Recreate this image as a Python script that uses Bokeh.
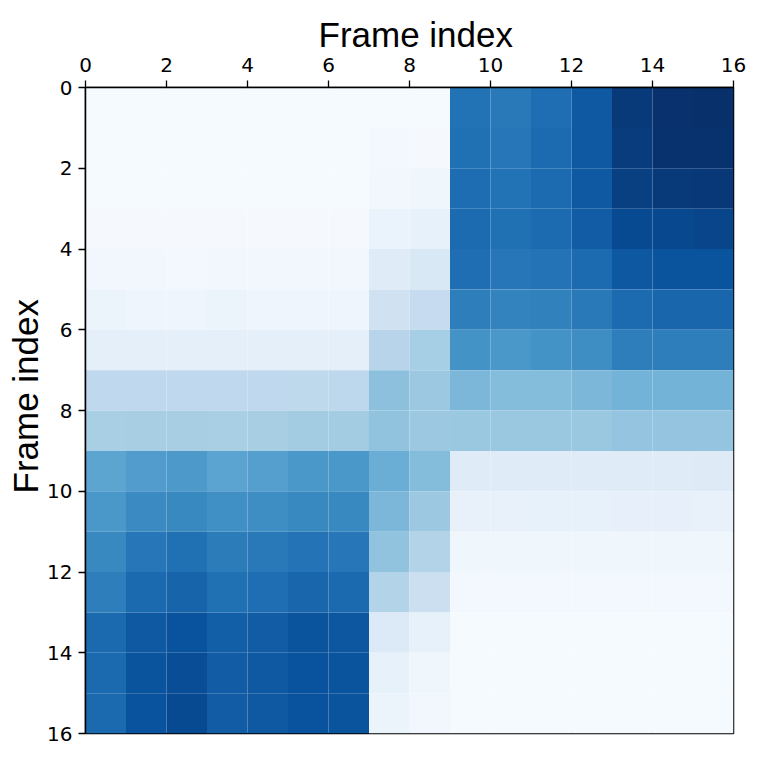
from bokeh.plotting import figure
from bokeh.models import ColumnDataSource, LinearColorMapper, FixedTicker, Range1d, Title
from bokeh.palettes import Blues256
from bokeh.embed import file_html
from bokeh.resources import INLINE

# Frame-to-frame distance matrix (row = y frame index, column = x frame index)
row_00 = [0.01, 0.01, 0.01, 0.01, 0.01, 0.01, 0.01, 0.01, 0.01, 0.745, 0.72, 0.76, 0.84, 0.96, 0.995, 1.00]
row_01 = [0.01, 0.01, 0.01, 0.01, 0.01, 0.01, 0.01, 0.02, 0.015, 0.75, 0.73, 0.77, 0.84, 0.95, 0.99, 0.99]
row_02 = [0.01, 0.01, 0.01, 0.01, 0.01, 0.01, 0.01, 0.03, 0.04, 0.765, 0.745, 0.77, 0.84, 0.94, 0.96, 0.965]
row_03 = [0.015, 0.015, 0.015, 0.015, 0.015, 0.015, 0.015, 0.07, 0.08, 0.77, 0.75, 0.77, 0.83, 0.90, 0.91, 0.92]
row_04 = [0.03, 0.03, 0.025, 0.03, 0.03, 0.03, 0.03, 0.12, 0.15, 0.76, 0.73, 0.74, 0.77, 0.845, 0.86, 0.86]
row_05 = [0.06, 0.05, 0.05, 0.055, 0.05, 0.05, 0.05, 0.20, 0.25, 0.70, 0.68, 0.69, 0.72, 0.77, 0.79, 0.79]
row_06 = [0.09, 0.09, 0.09, 0.09, 0.09, 0.09, 0.09, 0.30, 0.35, 0.62, 0.60, 0.62, 0.64, 0.70, 0.70, 0.70]
row_07 = [0.27, 0.27, 0.27, 0.27, 0.27, 0.275, 0.28, 0.42, 0.38, 0.46, 0.44, 0.44, 0.46, 0.48, 0.48, 0.48]
row_08 = [0.34, 0.345, 0.345, 0.34, 0.345, 0.36, 0.36, 0.41, 0.38, 0.385, 0.385, 0.385, 0.385, 0.40, 0.40, 0.40]
row_09 = [0.54, 0.58, 0.59, 0.55, 0.57, 0.60, 0.60, 0.50, 0.44, 0.12, 0.12, 0.12, 0.12, 0.12, 0.12, 0.125]
row_10 = [0.60, 0.65, 0.66, 0.63, 0.64, 0.66, 0.66, 0.46, 0.38, 0.075, 0.075, 0.08, 0.08, 0.085, 0.085, 0.075]
row_11 = [0.66, 0.73, 0.75, 0.71, 0.72, 0.74, 0.73, 0.41, 0.31, 0.04, 0.04, 0.04, 0.04, 0.04, 0.04, 0.04]
row_12 = [0.70, 0.78, 0.80, 0.75, 0.76, 0.79, 0.78, 0.31, 0.22, 0.025, 0.025, 0.025, 0.02, 0.02, 0.02, 0.02]
row_13 = [0.78, 0.84, 0.87, 0.82, 0.83, 0.86, 0.85, 0.14, 0.08, 0.01, 0.01, 0.01, 0.01, 0.01, 0.01, 0.01]
row_14 = [0.78, 0.86, 0.89, 0.83, 0.84, 0.87, 0.86, 0.08, 0.04, 0.01, 0.01, 0.01, 0.01, 0.01, 0.01, 0.01]
row_15 = [0.78, 0.87, 0.90, 0.83, 0.84, 0.87, 0.86, 0.06, 0.03, 0.01, 0.01, 0.01, 0.01, 0.01, 0.01, 0.01]

rows = [row_00, row_01, row_02, row_03, row_04, row_05, row_06, row_07,
        row_08, row_09, row_10, row_11, row_12, row_13, row_14, row_15]
frame_ticks = [0, 2, 4, 6, 8, 10, 12, 14, 16]
axis_title = "Frame index"

xs, ys, vals = [], [], []
for i, r in enumerate(rows):
    for j, v in enumerate(r):
        xs.append(j + 0.5)
        ys.append(i + 0.5)
        vals.append(v)
src = ColumnDataSource(dict(x=xs, y=ys, v=vals))

mapper = LinearColorMapper(palette=list(reversed(Blues256)), low=0.0, high=1.0)

p = figure(frame_width=648, frame_height=646,
           x_range=Range1d(0, 16), y_range=Range1d(16, 0),
           x_axis_location="above", y_axis_location="left",
           output_backend="svg", toolbar_location=None,
           min_border_left=85, min_border_top=87,
           min_border_right=16, min_border_bottom=16)

p.rect(x="x", y="y", width=1, height=1, source=src,
       fill_color={"field": "v", "transform": mapper},
       line_color=None)

p.grid.visible = False
p.outline_line_color = "black"
p.outline_line_width = 1.5
p.outline_line_alpha = 1.0
p.background_fill_color = "white"
p.border_fill_color = "white"

for ax in (p.xaxis[0], p.yaxis[0]):
    ax.ticker = FixedTicker(ticks=frame_ticks)
    ax.major_tick_in = 0
    ax.major_tick_out = 7
    ax.minor_tick_line_color = None
    ax.axis_line_color = "black"
    ax.axis_line_width = 1.5
    ax.major_tick_line_color = "black"
    ax.major_tick_line_width = 1.3
    ax.major_label_text_font = "DejaVu Sans"
    ax.major_label_text_font_size = "20px"
    ax.major_label_text_color = "black"

p.xaxis[0].major_label_standoff = 9
p.yaxis[0].major_label_standoff = 6

top_title = Title(text=axis_title, align="left", offset=233,
                  text_font="Liberation Sans", text_font_size="35px",
                  text_font_style="normal", text_color="black", standoff=2)
left_title = Title(text=axis_title, align="left", offset=240,
                   text_font="Liberation Sans", text_font_size="35px",
                   text_font_style="normal", text_color="black", standoff=0)
p.add_layout(top_title, "above")
p.add_layout(left_title, "left")

open("out.html", "w").write(file_html(p, INLINE))
